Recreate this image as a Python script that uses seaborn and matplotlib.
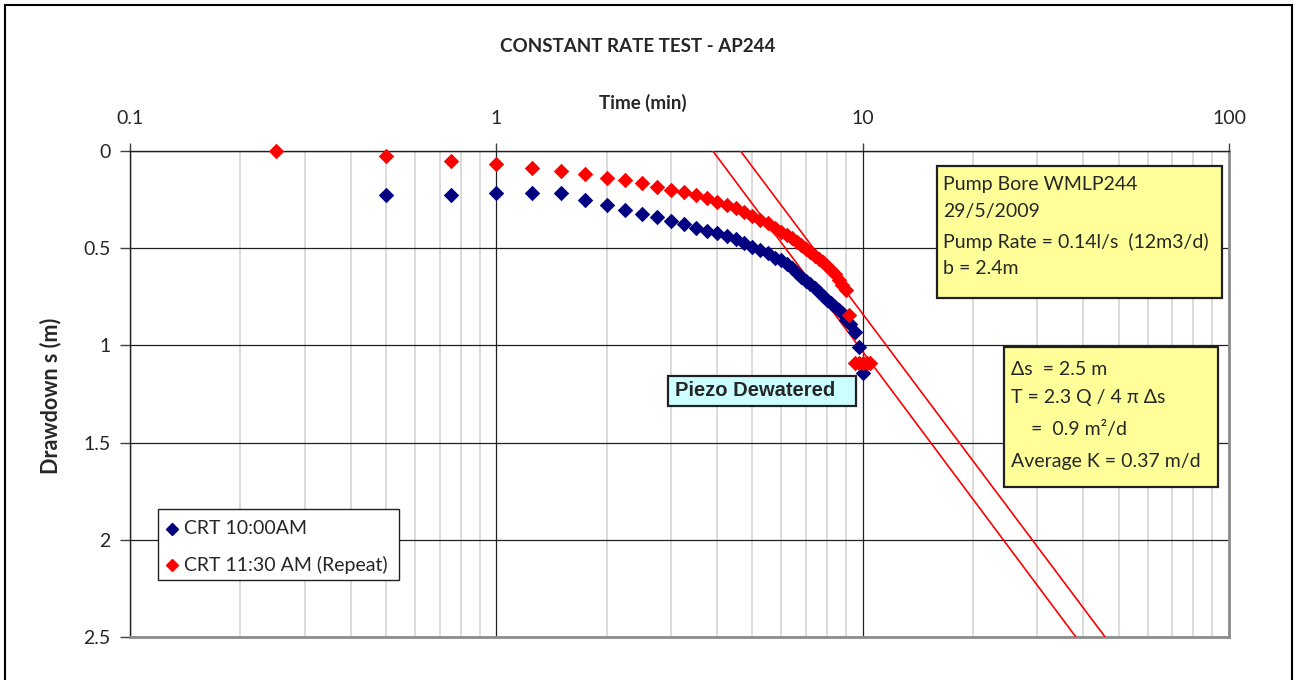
import numpy as np
import pandas as pd
import matplotlib
matplotlib.use("Agg")
import matplotlib.pyplot as plt
import seaborn as sns
from matplotlib.patches import Rectangle
from matplotlib.ticker import FixedLocator, LogLocator, NullFormatter
from matplotlib.lines import Line2D

# ---------------- data ----------------
crt1_time = [0.5, 0.75, 1.0, 1.25, 1.5, 1.75, 2.0, 2.25, 2.5, 2.75, 3.0, 3.25, 3.5, 3.75,
             4.0, 4.25, 4.5, 4.75, 5.0, 5.25, 5.5, 5.75, 6.0, 6.2, 6.4, 6.6, 6.8, 7.0, 7.2,
             7.4, 7.6, 7.8, 8.0, 8.2, 8.4, 8.6, 8.8, 9.0, 9.25, 9.5, 9.75, 10.0]
crt1_draw = [0.224, 0.224, 0.214, 0.214, 0.214, 0.25, 0.278, 0.303, 0.322, 0.341, 0.36, 0.374,
             0.395, 0.412, 0.42, 0.437, 0.454, 0.471, 0.494, 0.511, 0.523, 0.549, 0.561, 0.58,
             0.60, 0.63, 0.648, 0.667, 0.685, 0.705, 0.725, 0.745, 0.765, 0.783, 0.80, 0.818,
             0.835, 0.869, 0.89, 0.93, 1.01, 1.14]

crt2_time = [0.25, 0.5, 0.75, 1.0, 1.25, 1.5, 1.75, 2.0, 2.25, 2.5, 2.75, 3.0, 3.25, 3.5, 3.75,
             4.0, 4.25, 4.5, 4.75, 5.0, 5.25, 5.5, 5.75, 6.0, 6.2, 6.4, 6.6, 6.8, 7.0, 7.2,
             7.4, 7.6, 7.8, 8.0, 8.2, 8.4, 8.6, 8.8, 9.0, 9.2, 9.5, 9.75, 10.0, 10.25, 10.5]
crt2_draw = [0.0, 0.024, 0.053, 0.068, 0.086, 0.103, 0.12, 0.139, 0.148, 0.164, 0.183, 0.2,
             0.209, 0.224, 0.243, 0.26, 0.278, 0.295, 0.315, 0.334, 0.355, 0.372, 0.398, 0.415,
             0.43, 0.445, 0.468, 0.485, 0.505, 0.52, 0.538, 0.555, 0.572, 0.59, 0.61, 0.635,
             0.664, 0.69, 0.715, 0.845, 1.09, 1.09, 1.09, 1.09, 1.09]

fit1_time = [3.9, 38.2]
fit1_draw = [0.0, 2.5]
fit2_time = [4.64, 45.9]
fit2_draw = [0.0, 2.5]

x_ticks = [0.1, 1, 10, 100]
x_ticklabels = ["0.1", "1", "10", "100"]
y_ticks = [0, 0.5, 1, 1.5, 2, 2.5]
y_ticklabels = ["0", "0.5", "1", "1.5", "2", "2.5"]

series1_name = "CRT 10:00AM"
series2_name = "CRT 11:30 AM (Repeat)"
title_text = "CONSTANT RATE TEST - AP244"
xlabel_text = "Time (min)"
ylabel_text = "Drawdown s (m)"
box1_lines = ["Pump Bore WMLP244", "29/5/2009", "Pump Rate = 0.14l/s  (12m3/d)", "b = 2.4m"]
box2_lines = ["\u0394s  = 2.5 m", "T = 2.3 Q / 4 \u03c0 \u0394s", "    =  0.9 m\u00b2/d", "Average K = 0.37 m/d"]
piezo_text = "Piezo Dewatered"

# ---------------- style ----------------
sns.set_style("white")
FONT = ["Lato", "DejaVu Sans"]
plt.rcParams["font.family"] = FONT

W, H = 1299, 680
fig = plt.figure(figsize=(W / 100, H / 100), dpi=100)
fig.patch.set_facecolor("white")


def fx(x):
    return x / W


def fy(y):
    return 1 - y / H


ax = fig.add_axes([fx(130), fy(637), fx(1229) - fx(130), fy(151) - fy(637)])

NAVY = "#000080"
RED = "#FF0000"

df1 = pd.DataFrame({"t": crt1_time, "s": crt1_draw})
df2 = pd.DataFrame({"t": crt2_time, "s": crt2_draw})
dl1 = pd.DataFrame({"t": fit1_time, "s": fit1_draw})
dl2 = pd.DataFrame({"t": fit2_time, "s": fit2_draw})

sns.lineplot(data=dl1, x="t", y="s", ax=ax, color=RED, lw=1.2, estimator=None, sort=False,
             zorder=3, legend=False)
sns.lineplot(data=dl2, x="t", y="s", ax=ax, color=RED, lw=1.2, estimator=None, sort=False,
             zorder=3, legend=False)
sns.scatterplot(data=df1, x="t", y="s", ax=ax, marker="D", s=62, color=NAVY, edgecolor=NAVY,
                linewidth=0, zorder=4, clip_on=False, legend=False)
sns.scatterplot(data=df2, x="t", y="s", ax=ax, marker="D", s=62, color=RED, edgecolor=RED,
                linewidth=0, zorder=5, clip_on=False, legend=False)

ax.set_xscale("log")
ax.set_xlim(0.1, 100)
ax.set_ylim(2.5, 0)

ax.xaxis.tick_top()
ax.xaxis.set_label_position("top")
ax.xaxis.set_major_locator(FixedLocator(x_ticks))
ax.set_xticklabels(x_ticklabels)
ax.xaxis.set_minor_locator(LogLocator(base=10, subs=np.arange(2, 10)))
ax.xaxis.set_minor_formatter(NullFormatter())
ax.set_yticks(y_ticks)
ax.set_yticklabels(y_ticklabels)

ax.tick_params(axis="x", which="major", length=6, width=1, color="#404040", pad=11,
               labelsize=14, top=True, bottom=False)
ax.tick_params(axis="x", which="minor", length=0, top=False, bottom=False)
ax.tick_params(axis="y", which="major", length=7, width=1, color="#404040", pad=7,
               labelsize=14, left=True)

ax.grid(True, which="major", axis="both", color="#202020", lw=0.9, zorder=0)
ax.grid(True, which="minor", axis="x", color="#D4D4D4", lw=1.2, zorder=0)
ax.set_axisbelow(True)

for side in ["left", "top"]:
    ax.spines[side].set_color("#202020")
    ax.spines[side].set_linewidth(1.0)
for side in ["right", "bottom"]:
    ax.spines[side].set_color("#8C8C8C")
    ax.spines[side].set_linewidth(2.0)

ax.set_xlabel("")
ax.set_ylabel("")

# axis labels and title
fig.text(fx(643), fy(103), xlabel_text, ha="center", va="center", fontsize=13.5,
         fontweight="bold")
fig.text(fx(51), fy(396), ylabel_text, ha="center", va="center", rotation=90,
         fontsize=15.5, fontweight="bold")
fig.text(fx(638), fy(47), title_text, ha="center", va="center", fontsize=13.5,
         fontweight="bold")

# legend
legend_colors = [NAVY, RED]
fig.add_artist(Rectangle((fx(158), fy(580)), fx(399) - fx(158), fy(509) - fy(580),
                         transform=fig.transFigure, fill=True, facecolor="white",
                         edgecolor="#202020", lw=1.0, zorder=10))
for col, name, yc in zip(legend_colors, [series1_name, series2_name], [529, 565]):
    fig.add_artist(Line2D([fx(172)], [fy(yc)], transform=fig.transFigure, ls="none",
                          marker="D", ms=6.5, color=col, mec=col, zorder=11))
    fig.text(fx(184), fy(yc), name, ha="left", va="center", fontsize=14, zorder=11)


# text boxes
def text_box(x0, y0, x1, y1, fc, lines, tx, ys, size, weight="normal", family=FONT):
    fig.add_artist(Rectangle((fx(x0), fy(y1)), fx(x1) - fx(x0), fy(y0) - fy(y1),
                             transform=fig.transFigure, facecolor=fc,
                             edgecolor="#202020", lw=1.6, zorder=10))
    for line, yc in zip(lines, ys):
        fig.text(fx(tx), fy(yc), line, ha="left", va="center", fontsize=size,
                 fontweight=weight, family=family, zorder=11)


text_box(937, 166, 1222, 298, "#FFFF99", box1_lines, 943, [185, 212, 242, 269], 14)
text_box(1004, 347, 1218, 487, "#FFFF99", box2_lines, 1011, [370, 398, 430, 462], 14)
text_box(668, 376, 856, 406, "#CCFFFF", [piezo_text], 675, [391], 14.5, weight="bold",
         family=["Liberation Sans", "DejaVu Sans"])

# outer chart border
fig.add_artist(Rectangle((fx(5), -0.05), fx(1292) - fx(5), fy(5) + 0.05,
                         transform=fig.transFigure, fill=False, edgecolor="#000000",
                         lw=1.5, zorder=12))

fig.savefig("out.png", dpi=100)
